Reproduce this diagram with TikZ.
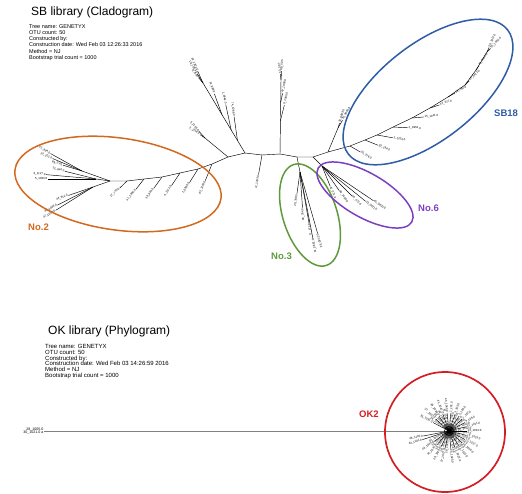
\documentclass[tikz,border=0pt]{standalone}
\usepackage{fontspec}
\setmainfont{Liberation Sans}
\usetikzlibrary{calc}
\definecolor{treeorange}{HTML}{D2691E}
\definecolor{treegreen}{HTML}{5E9A3A}
\definecolor{treepurple}{HTML}{7D3FC2}
\definecolor{treeblue}{HTML}{2E5CA6}
\definecolor{treered}{HTML}{D41E24}

% leaf with its label: from, screen angle, length, text
\newcommand\leafR[4]{\draw[branch] (#1) -- ++(#2:#3) node[leaflbl, anchor=west, rotate={-(#2)}] {#4};}
\newcommand\leafL[4]{\draw[branch] (#1) -- ++(#2:#3) node[leaflbl, anchor=east, rotate={180-(#2)}] {#4};}

\begin{document}
\begin{tikzpicture}[x=1pt, y=-1pt,
    branch/.style={line width=0.45pt, black},
    leaflbl/.style={font=\fontsize{2.9}{3}\selectfont, inner sep=0.5pt},
    grp/.style={line width=1.5pt, draw=#1},
    grplbl/.style={font=\fontsize{9.5}{10}\selectfont\bfseries, text=#1, inner sep=0pt, anchor=west},
    info/.style={align=left, inner sep=0pt, anchor=north west},
    ttl/.style={font=\fontsize{12}{14}\selectfont, anchor=west, inner sep=0pt},
]
    \useasboundingbox (0,0) rectangle (522,493);

    % Headers
    \node[ttl] (sbtitle) at (31,12.5) {SB library (Cladogram)};
    \node[info, font=\fontsize{5.5}{6.3}\selectfont] (sbinfo) at (29,24) {Tree name: GENETYX\\OTU count: 50\\Constructed by:\\Construction date: Wed Feb 03 12:26:33 2016\\Method = NJ\\Bootstrap trial count = 1000};
    \node[ttl] (oktitle) at (48,331) {OK library (Phylogram)};
    \node[info, font=\fontsize{6}{5.7}\selectfont] (okinfo) at (45,344.5) {Tree name: GENETYX\\OTU count: 50\\Constructed by:\\Construction date: Wed Feb 03 14:26:59 2016\\Method = NJ\\Bootstrap trial count = 1000};

    % SB tree backbone
    \coordinate (a) at (228,157);
    \coordinate (b) at (245,153);
    \coordinate (bc) at (262,155);
    \coordinate (c) at (280,154);
    \coordinate (d) at (297,157);
    \coordinate (e) at (313,157);
    \coordinate (f) at (328,152);
    \coordinate (l1) at (212,164);
    \coordinate (l2) at (198,169);
    \coordinate (l3) at (180,173);
    \coordinate (l4) at (162,177);
    \coordinate (l5) at (144,179);
    \coordinate (l6) at (127,181);
    \coordinate (l7) at (110,181);
    \draw[branch] (l7) -- (l6) -- (l5) -- (l4) -- (l3) -- (l2) -- (l1) -- (a) -- (b) -- (bc) -- (c) -- (d) -- (e) -- (f);

    % No.2 side
    \leafL{l1}{112}{18}{85\_1203.0}
    \leafL{l2}{122}{16}{1\_0986.0}
    \leafL{l3}{124}{15}{4\_1112.0}
    \leafL{l4}{126}{14}{38\_864.0}
    \leafL{l5}{128}{13}{41\_1092.0}
    \leafL{l6}{136}{10}{27\_735.0}
    \coordinate (p1) at (82,171);
    \coordinate (p2) at (96,179);
    \coordinate (p3) at (93,187);
    \draw[branch] (l7) -- (p1);
    \draw[branch] (l7) -- (p2);
    \draw[branch] (l7) -- (p3);
    \leafL{p1}{197}{20}{89\_0.45}
    \leafL{p1}{203}{32}{23\_101.0}
    \leafL{p1}{209}{36}{22\_994.0}
    \leafL{p2}{180}{48}{5\_1043.0}
    \leafL{p2}{185}{50}{6\_1127.0}
    \leafL{p2}{194}{32}{12\_844.0}
    \leafL{p3}{161}{26}{34\_912.0}
    \leafL{p3}{153}{40}{36\_1008.0}
    \leafL{p3}{148}{44}{37\_1010.0}
    \coordinate (q) at (205,138);
    \draw[branch] (a) -- (q);
    \leafL{q}{214}{6}{2\_1154.0}
    \leafL{q}{228}{9}{3\_1155.0}

    % upper branches
    \coordinate (u) at (203,83);
    \draw[branch] (b) -- (u);
    \coordinate (u1) at ($(b)!0.18!(u)$);
    \coordinate (u2) at ($(b)!0.33!(u)$);
    \coordinate (u3) at ($(b)!0.55!(u)$);
    \leafL{u1}{262}{24}{74\_1088.0}
    \leafL{u2}{258}{26}{1\_0942.0}
    \leafL{u3}{250}{22}{16\_888.0}
    \leafL{u}{230}{7}{8\_0.00}
    \leafL{u}{238}{11}{10\_1053.0}
    \leafL{u}{246}{13}{19\_1201.0}
    \coordinate (v) at (281,80);
    \draw[branch] (c) -- (v);
    \coordinate (v1) at ($(c)!0.45!(v)$);
    \coordinate (v2) at ($(c)!0.7!(v)$);
    \leafR{v1}{284}{16}{9\_1005.0}
    \leafR{v2}{282}{9}{47\_1060.0}
    \leafR{v}{264}{6}{43\_0.07}
    \leafR{v}{274}{9}{48\_0.05}
    \leafL{bc}{100}{20}{11\_1183.0}

    % No.3 and No.6
    \coordinate (n3) at (300,172);
    \draw[branch] (d) -- (n3);
    \leafL{n3}{98}{22}{20\_788.0}
    \leafL{n3}{86}{36}{90\_784.0}
    \leafL{n3}{80}{52}{71\_275.0}
    \leafL{n3}{74}{64}{29\_0852.0}
    \leafL{n3}{79}{68}{31\_0842.0}
    \coordinate (n6) at (322,166);
    \draw[branch] (e) -- (n6);
    \leafR{n6}{68}{22}{41\_071.0}
    \leafR{n6}{55}{30}{40\_1450.0}
    \leafR{n6}{45}{42}{50\_472.0}
    \leafR{n6}{39}{56}{33\_0421.0}
    \leafR{n6}{34}{62}{45\_0403.0}

    % SB18 arm
    \coordinate (g) at (338,128);
    \draw[branch] (f) -- (g);
    \leafR{g}{288}{5}{32\_0663.0}
    \leafR{g}{300}{9}{35\_0665.0}
    \coordinate (s1) at (350,146);
    \coordinate (s2) at (365,140);
    \coordinate (s3) at (377,135);
    \coordinate (s4) at (393,127);
    \coordinate (s5) at (412,118);
    \coordinate (s6) at (430,108);
    \coordinate (s7) at (448,97);
    \coordinate (s8) at (465,85);
    \coordinate (s9) at (476,70);
    \coordinate (t) at (487,52);
    \draw[branch] (f) -- (s1) -- (s2) -- (s3) -- (s4) -- (s5) -- (s6) -- (s7) -- (s8) -- (s9) -- (t);
    \leafR{s1}{30}{12}{20\_376.0}
    \leafR{s2}{22}{14}{30\_194.0}
    \leafR{s3}{10}{16}{1\_1226.0}
    \leafR{s4}{3}{15}{2\_0953.0}
    \leafR{s5}{-5}{12}{15\_1011.0}
    \leafR{s6}{-18}{10}{14\_677.0}
    \leafR{s7}{-30}{8}{16\_792.0}
    \leafR{s8}{-45}{6}{17\_0412.0}
    \leafR{s9}{-55}{5}{49\_0443.0}
    \leafR{t}{-45}{5}{55\_1052.0}
    \leafR{t}{-65}{5}{56\_1057.0}

    % groups
    \draw[grp=treeorange, rotate around={-8:(118,184)}] (118,184) ellipse [x radius=104, y radius=46];
    \draw[grp=treegreen, rotate around={18:(310,215)}] (310,215) ellipse [x radius=27, y radius=53];
    \draw[grp=treepurple, rotate around={-30:(365,195)}] (365,195) ellipse [x radius=54, y radius=22];
    \draw[grp=treeblue, rotate around={38:(428,92)}] (428,92) ellipse [x radius=101, y radius=48];
    \node[grplbl=treeorange] (lblno2) at (28,227) {No.2};
    \node[grplbl=treegreen] (lblno3) at (271,256) {No.3};
    \node[grplbl=treepurple] (lblno6) at (418,208) {No.6};
    \node[grplbl=treeblue] (lblsb18) at (494,113) {SB18};

    % OK tree
    \coordinate (okc) at (449,431);
    \node[leaflbl, font=\fontsize{3.6}{3.6}\selectfont, anchor=east, align=right] (ok1) at (44,431) {28\_1005.0\\30\_1021.0 a};
    \draw[gray, line width=0.8pt] (ok1.east) -- (okc);
    \foreach \a [count=\i] in {-84,-77,...,84} {
        \pgfmathsetmacro\len{8+10*mod(\i,2)}
        \leafR{okc}{\a}{\len}{\i\_10\i.0}
    }
    \foreach \a [count=\i from 26] in {96,103,...,152} {
        \pgfmathsetmacro\len{8+10*mod(\i,2)}
        \leafL{okc}{\a}{\len}{\i\_10\i.0}
    }
    \foreach \a [count=\i from 35] in {208,215,...,264} {
        \pgfmathsetmacro\len{8+10*mod(\i,2)}
        \leafL{okc}{\a}{\len}{\i\_10\i.0}
    }
    \leafL{okc}{162}{28}{44\_1101.0}
    \leafL{okc}{169}{26}{46\_1102.0}
    \fill (okc) circle (2.5);
    \draw[line width=0.6pt] (okc) circle (4.5);
    \draw[grp=treered, line width=1.7pt] (445,432) circle (60);
    \node[grplbl=treered] (lblok2) at (359,414) {OK2};
\end{tikzpicture}
\end{document}
